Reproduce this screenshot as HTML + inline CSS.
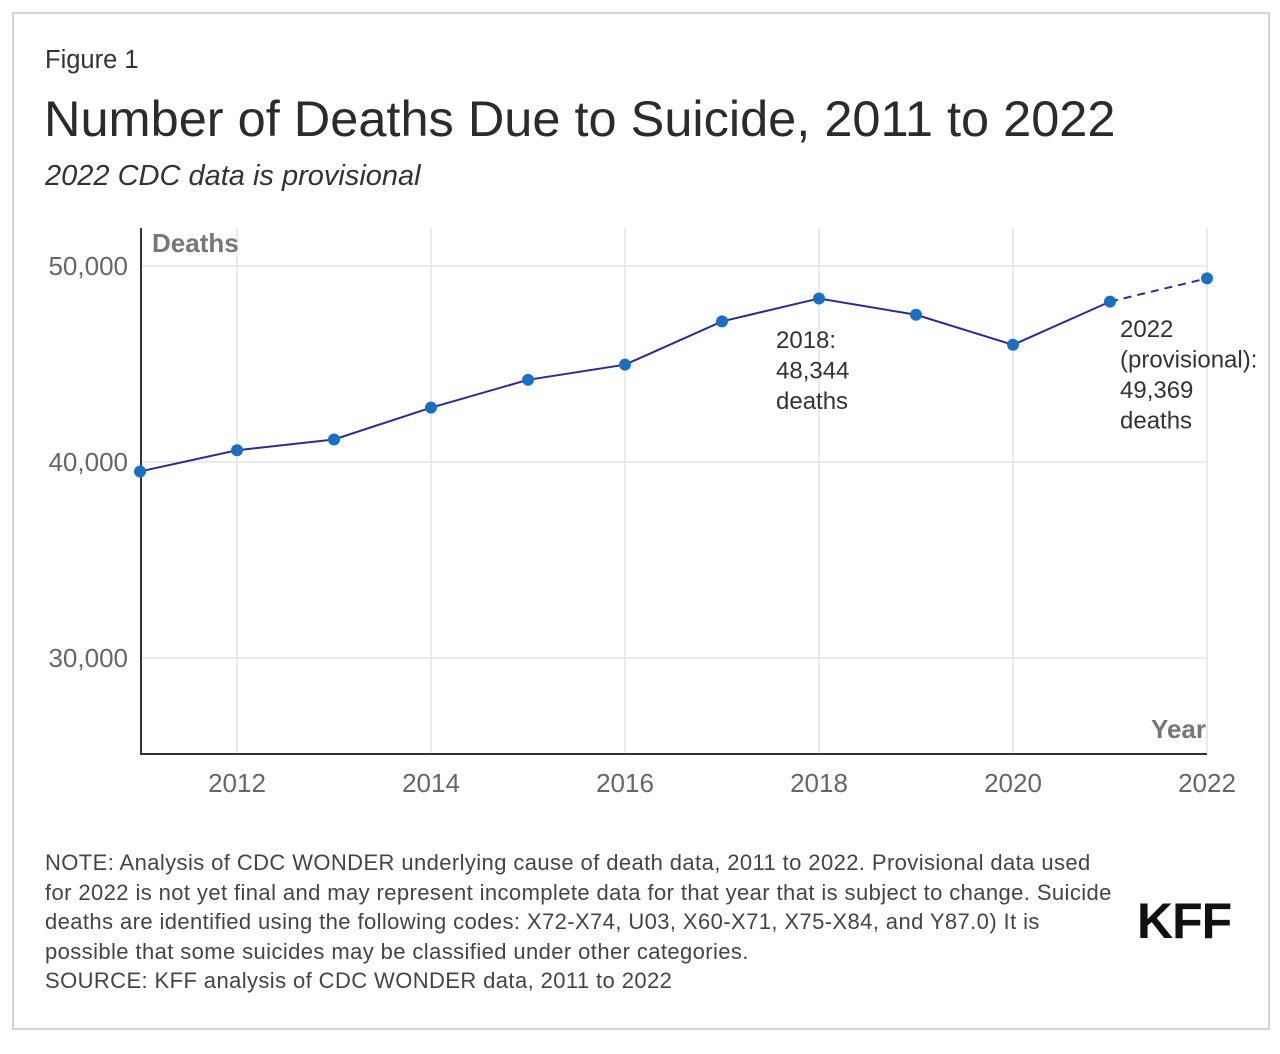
<!DOCTYPE html>
<html><head><meta charset="utf-8"><style>
body{margin:0;width:1280px;height:1054px;background:#fff;font-family:"Liberation Sans",sans-serif;position:relative;overflow:hidden}
.frame{position:absolute;left:12px;top:12px;width:1254px;height:1014px;border:2px solid #d4d4d4;box-sizing:content-box}
.t{position:absolute;color:#333;white-space:nowrap}
</style></head><body>
<div class="frame"></div>
<div class="t" style="left:45px;top:46px;font-size:25.5px">Figure 1</div>
<div class="t" style="left:44px;top:89px;font-size:50.5px;color:#2b2b2b">Number of Deaths Due to Suicide, 2011 to 2022</div>
<div class="t" style="left:45px;top:160px;font-size:29px;font-style:italic">2022 CDC data is provisional</div>
<svg id="chart" width="1280" height="820" style="position:absolute;left:0;top:0" font-family="Liberation Sans, sans-serif"></svg>
<div class="t" style="left:45px;top:848px;font-size:22px;letter-spacing:0.4px;line-height:29.5px;color:#444">NOTE: Analysis of CDC WONDER underlying cause of death data, 2011 to 2022. Provisional data used<br>for 2022 is not yet final and may represent incomplete data for that year that is subject to change. Suicide<br>deaths are identified using the following codes: X72-X74, U03, X60-X71, X75-X84, and Y87.0) It is<br>possible that some suicides may be classified under other categories.<br>SOURCE: KFF analysis of CDC WONDER data, 2011 to 2022</div>
<div class="t" style="left:1137px;top:892px;font-size:50px;font-weight:bold;color:#111;letter-spacing:-1px">KFF</div>
<script>
const years=[2011,2012,2013,2014,2015,2016,2017,2018,2019,2020,2021,2022];
const deaths=[39518,40600,41149,42773,44193,44965,47173,48344,47511,45979,48183,49369];
const yTicks=[30000,40000,50000];
const yTickLabels=["30,000","40,000","50,000"];
const xTicks=[2012,2014,2016,2018,2020,2022];
const svg=document.getElementById('chart');
const NS='http://www.w3.org/2000/svg';
const X=y=>140+(y-2011)*(1207-140)/11;
const Y=v=>462-(v-40000)*0.0196;
function mk(t,a,p){const e=document.createElementNS(NS,t);for(const k in a)e.setAttribute(k,a[k]);(p||svg).appendChild(e);return e;}
xTicks.forEach(t=>{const l=mk('line',{x1:X(t),x2:X(t),y1:228,y2:754,stroke:'#e3e3e3','stroke-width':1.5});


const tx=mk('text',{x:X(t),y:792,'text-anchor':'middle','font-size':26,fill:'#666'});tx.textContent=t;

});
yTicks.forEach((t,i)=>{const l=mk('line',{x1:140,x2:1207,y1:Y(t),y2:Y(t),stroke:'#e3e3e3','stroke-width':1.5});


const tx=mk('text',{x:128,y:Y(t)+9,'text-anchor':'end','font-size':26,fill:'#666'});tx.textContent=yTickLabels[i];

});
const ax=mk('path',{d:'M141 228V754H1207',fill:'none',stroke:'#333','stroke-width':2});


const yt=mk('text',{x:152,y:252,'font-size':26,'font-weight':'bold',fill:'#777'});yt.textContent='Deaths';


const xt=mk('text',{x:1206,y:738,'text-anchor':'end','font-size':26,'font-weight':'bold',fill:'#777'});xt.textContent='Year';


const n=years.length;
const solid=years.slice(0,n-1).map((y,i)=>X(y)+','+Y(deaths[i])).join(' ');
const pl=mk('polyline',{points:solid,fill:'none',stroke:'#2c2c8c','stroke-width':2});


const dl=mk('line',{x1:X(years[n-2]),y1:Y(deaths[n-2]),x2:X(years[n-1]),y2:Y(deaths[n-1]),stroke:'#2c2c8c','stroke-width':2,'stroke-dasharray':'8,6'});


years.forEach((y,i)=>{const c=mk('circle',{cx:X(y),cy:Y(deaths[i]),r:6,fill:'#1a6fc0'});

});
function lbl(lines,x,y0,name){const g=mk('text',{x:x,y:y0,'font-size':24,fill:'#333'});


lines.forEach((s,i)=>{const t=mk('tspan',{x:x,dy:i?30.5:0},g);t.textContent=s;});}
lbl(['2018:','48,344','deaths'],776,348,'annotation-2018');
lbl(['2022','(provisional):','49,369','deaths'],1120,337,'annotation-2022');
</script>
</body></html>
